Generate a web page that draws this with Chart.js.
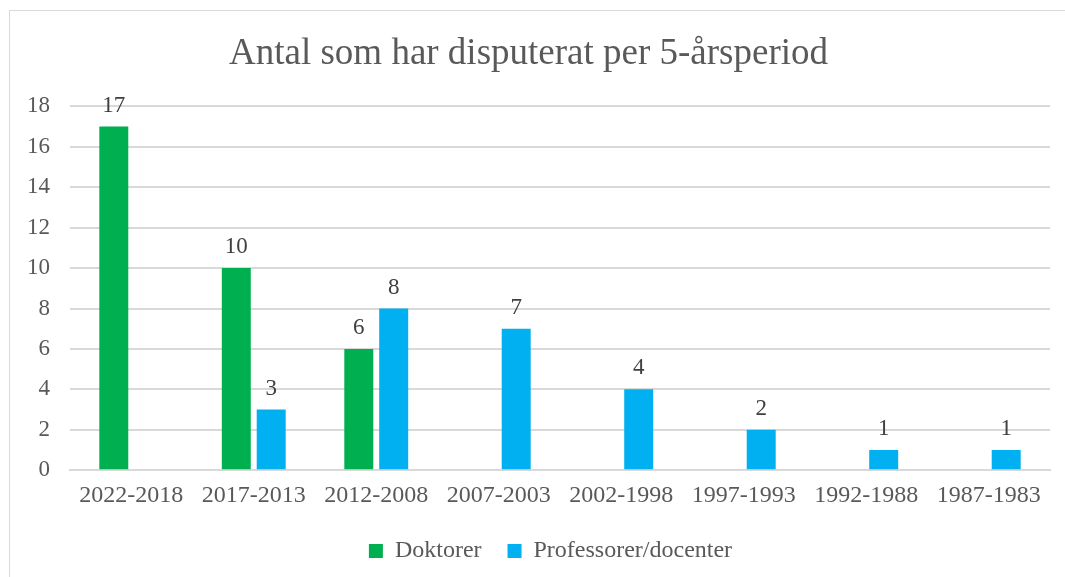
<!DOCTYPE html>
<html>
<head>
<meta charset="utf-8">
<script src="https://cdn.jsdelivr.net/npm/chart.js@4/dist/chart.umd.min.js"></script>
<style>
  html, body { margin: 0; padding: 0; background: #fff; }
  #wrap { position: relative; width: 1065px; height: 577px; overflow: hidden; }
  #frame { position: absolute; left: 9px; top: 10px; width: 1070px; height: 580px; border: 1px solid #d9d9d9; box-sizing: border-box; }
  canvas { position: absolute; left: 0; top: 0; }
</style>
</head>
<body>
<div id="wrap">
  <div id="frame"></div>
  <canvas id="chart" width="1065" height="577"></canvas>
</div>
<script>
// Data
const periods = ['2022-2018', '2017-2013', '2012-2008', '2007-2003', '2002-1998', '1997-1993', '1992-1988', '1987-1983'];
const doktorer = [17, 10, 6, null, null, null, null, null];
const professorer = [null, 3, 8, 7, 4, 2, 1, 1];
const yTicks = [0, 2, 4, 6, 8, 10, 12, 14, 16, 18];

const serif = '"Liberation Serif", "Times New Roman", serif';
const textGray = '#595959';

// Value labels above bars
const valueLabels = {
  id: 'valueLabels',
  afterDatasetsDraw(chart) {
    const ctx = chart.ctx;
    ctx.save();
    ctx.font = '23px ' + serif;
    ctx.fillStyle = '#404040';
    ctx.textAlign = 'center';
    ctx.textBaseline = 'alphabetic';
    chart.data.datasets.forEach((ds, i) => {
      chart.getDatasetMeta(i).data.forEach((bar, j) => {
        if (ds.data[j] == null) return;
        ctx.fillText(ds.data[j], bar.x, bar.y - 15);
      });
    });
    ctx.restore();
  }
};

// nudge the legend a bit right, like the original
const legendShift = {
  id: 'legendShift',
  afterLayout(chart) {
    chart.legend.left += 22;
    chart.legend.right += 22;
  }
};

new Chart(document.getElementById('chart'), {
  type: 'bar',
  data: {
    labels: periods,
    datasets: [{
      label: 'Doktorer',
      data: doktorer,
      backgroundColor: '#00b050'
    }, {
      label: 'Professorer/docenter',
      data: professorer,
      backgroundColor: '#00b0f0'
    }]
  },
  options: {
    responsive: false,
    animation: false,
    layout: { padding: { left: 7, right: 15, top: 10, bottom: 4 } },
    datasets: {
      bar: { categoryPercentage: 0.57, barPercentage: 0.83 }
    },
    plugins: {
      title: {
        display: true,
        text: 'Antal som har disputerat per 5-årsperiod',
        color: textGray,
        font: { family: serif, size: 37, weight: 'normal' },
        padding: { top: 22, bottom: 30 }
      },
      legend: {
        position: 'bottom',
        labels: {
          color: textGray,
          font: { family: serif, size: 24 },
          boxWidth: 14,
          boxHeight: 14,
          padding: 26
        }
      },
      tooltip: { enabled: false }
    },
    scales: {
      x: {
        grid: { display: false },
        border: { color: '#d9d9d9', width: 2 },
        ticks: { color: textGray, font: { family: serif, size: 24 }, padding: 3 }
      },
      y: {
        min: 0,
        max: 18,
        afterBuildTicks: axis => { axis.ticks = yTicks.map(v => ({ value: v })); },
        grid: { color: '#d9d9d9', lineWidth: 2, drawTicks: false },
        border: { display: false },
        ticks: { color: textGray, font: { family: serif, size: 23 }, padding: 20 }
      }
    }
  },
  plugins: [valueLabels, legendShift]
});
</script>
</body>
</html>
